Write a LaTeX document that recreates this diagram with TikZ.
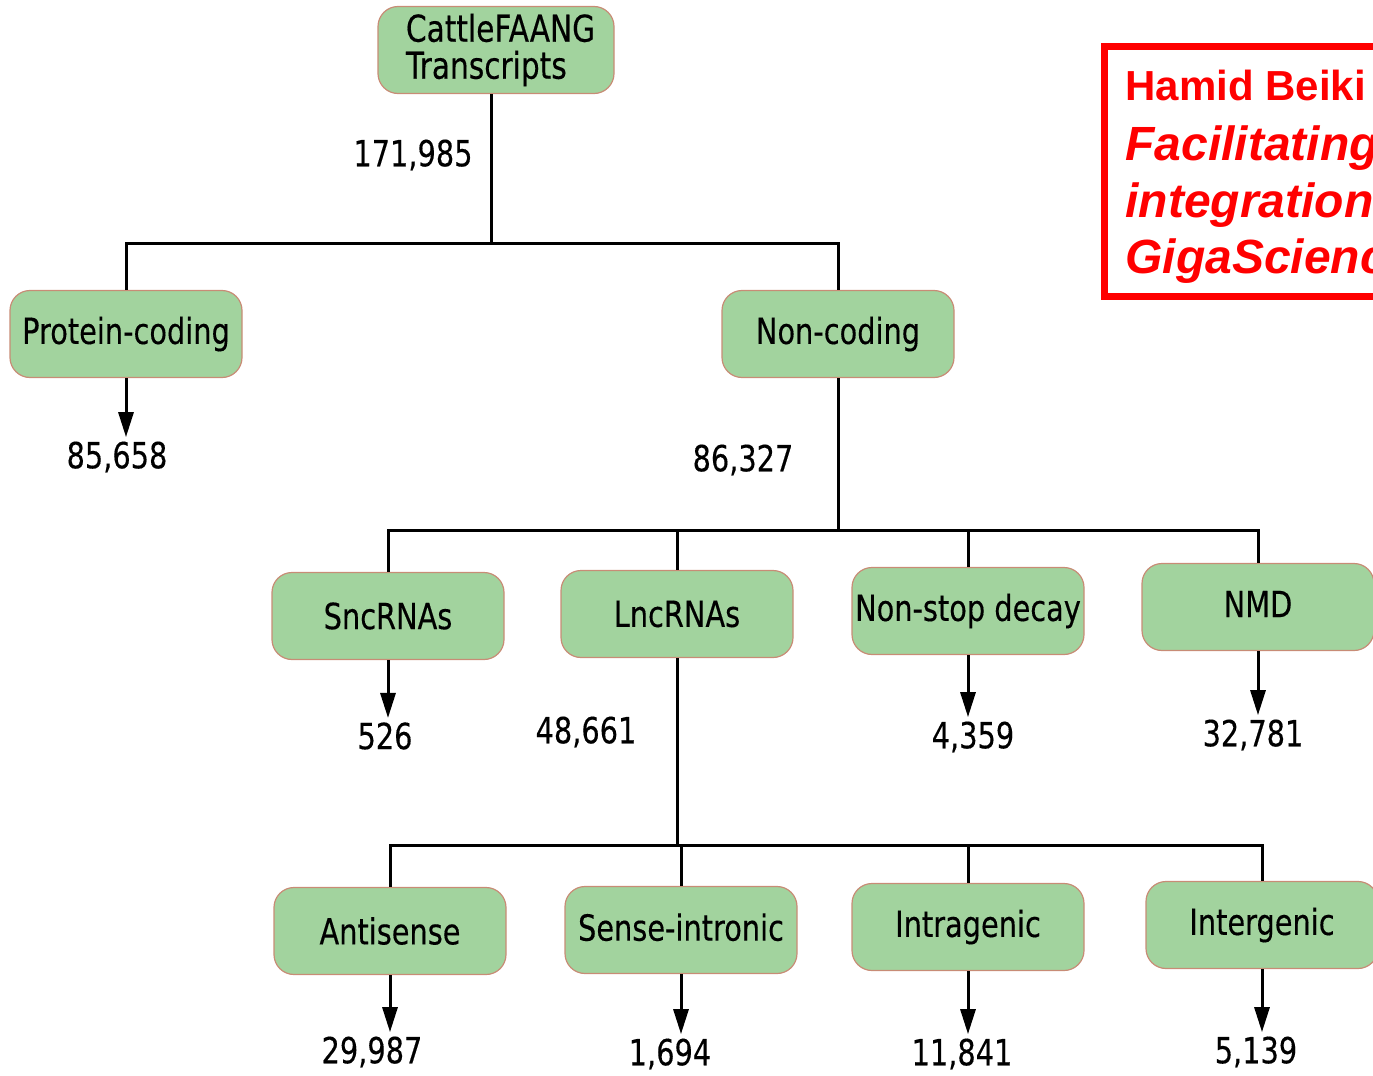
\documentclass[tikz,border=0pt]{standalone}
\usepackage{fontspec}
\setmainfont{DejaVu Sans}[FakeStretch=0.8, FakeBold=0.3]
\newfontfamily\notefont{Liberation Sans}
\usetikzlibrary{arrows.meta,positioning}

\definecolor{boxgreen}{RGB}{162,211,158}
\definecolor{boxedge}{RGB}{200,140,118}

\tikzset{
  catbox/.style={draw=boxedge, fill=boxgreen, rounded corners=10pt, line width=0.6pt,
    minimum width=116pt, minimum height=43.5pt, inner xsep=0pt,
    font=\fontsize{18}{19}\selectfont},
  count/.style={font=\fontsize{18}{19}\selectfont, inner sep=2pt},
  tree/.style={line width=1.5pt},
  arr/.style={line width=1.5pt, -{Triangle[length=12.5pt,width=7.5pt]}},
  notetext/.style={text=red, anchor=base west, inner sep=0pt,
    font=\notefont\bfseries\itshape\fontsize{24}{24}\selectfont}
}

\begin{document}
\begin{tikzpicture}[x=0.5pt, y=-0.5pt]
    \useasboundingbox (0,0) rectangle (1373,1076);
    \clip (0,0) rectangle (1373,1076);

    % Transcript classes
    \node[catbox, align=left, minimum height=43.5pt, inner xsep=14pt, inner ysep=2pt,
      font=\fontsize{18.5}{20.5}\selectfont, text width=90pt] (top) at (496,50) {\raisebox{-2pt}{CattleFAANG}\\Transcripts};
    \node[catbox] (prot) at (126,334) {Protein-coding};
    \node[catbox] (nonc) at (838,334) {Non-coding};
    \node[catbox] (snc) at (388,616) {SncRNAs};
    \node[catbox] (lnc) at (677,614) {LncRNAs};
    \node[catbox] (nsd) at (968,611) {\raisebox{3pt}{Non-stop decay}};
    \node[catbox] (nmd) at (1258,607) {\raisebox{3pt}{NMD}};
    \node[catbox] (anti) at (390,931) {Antisense};
    \node[catbox] (sint) at (681,930) {\raisebox{3pt}{Sense-intronic}};
    \node[catbox] (intra) at (968,927) {Intragenic};
    \node[catbox] (inter) at (1262,925) {Intergenic};

    % Counts
    \node[count] (c0) at (413,155) {171,985};
    \node[count] (c1) at (117,457) {85,658};
    \node[count] (c2) at (743,460) {86,327};
    \node[count] (c3) at (385,736) {526};
    \node[count] (c4) at (586,732) {48,661};
    \node[count] (c5) at (973,737) {4,359};
    \node[count] (c6) at (1253,735) {32,781};
    \node[count] (c7) at (372,1052) {29,987};
    \node[count] (c8) at (670,1054) {1,694};
    \node[count] (c9) at (962,1054) {11,841};
    \node[count] (c10) at (1256,1052) {5,139};

    % Branches
    \coordinate (j1) at (491,243);
    \draw[tree] (top.south -| j1) -- (j1);
    \draw[tree] (prot.north) |- (j1) -| (nonc.north);
    \coordinate (j2) at (838,530);
    \draw[tree] (nonc.south) -- (j2);
    \draw[tree] (snc.north) |- (j2) -| (nmd.north);
    \draw[tree] (lnc.north) -- (lnc.north |- j2);
    \draw[tree] (nsd.north) -- (nsd.north |- j2);
    \coordinate (j3) at (677,845);
    \draw[tree] (lnc.south) -- (j3);
    \draw[tree] (anti.north) |- (j3) -| (inter.north);
    \draw[tree] (sint.north) -- (sint.north |- j3);
    \draw[tree] (intra.north) -- (intra.north |- j3);

    % Arrows to counts
    \draw[arr] (prot.south) -- (prot.south |- c1.north);
    \draw[arr] (snc.south) -- (snc.south |- c3.north);
    \draw[arr] (nsd.south) -- (nsd.south |- c5.north);
    \draw[arr] (nmd.south) -- (nmd.south |- c6.north);
    \draw[arr] (anti.south) -- (anti.south |- c7.north);
    \draw[arr] (sint.south) -- (sint.south |- c8.north);
    \draw[arr] (intra.south) -- (intra.south |- c9.north);
    \draw[arr] (inter.south) -- (inter.south |- c10.north);

    % Red note
    \draw[red, line width=3.5pt] (1104,46) rectangle (1400,296);
    \node[notetext, font=\notefont\bfseries\fontsize{21}{21}\selectfont] (author) at (1125,100) {Hamid Beiki};
    \node[notetext] (title1) at (1125,160) {Facilitating};
    \node[notetext] (title2) at (1125,217) {integration};
    \node[notetext] (journal) at (1125,273) {GigaScience};
\end{tikzpicture}
\end{document}
